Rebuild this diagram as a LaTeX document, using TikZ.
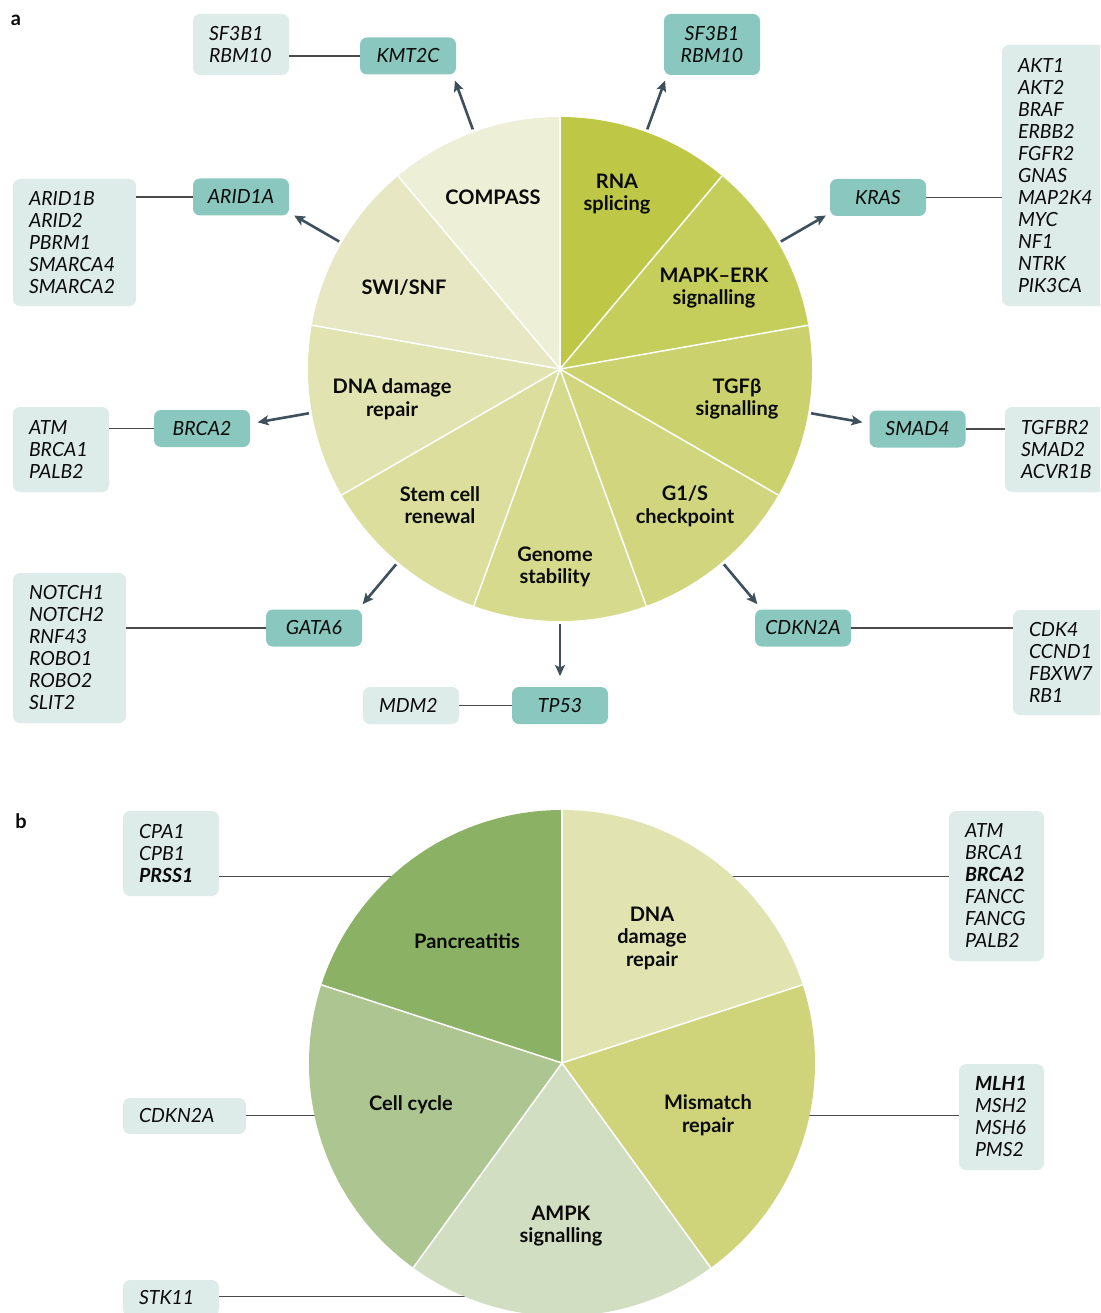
\documentclass[tikz,border=0pt]{standalone}
\usepackage{fontspec}
\setmainfont{Lato}[BoldFont={Lato Bold},BoldItalicFont={Lato Bold Italic}]
\usetikzlibrary{arrows.meta}
\definecolor{txt}{HTML}{0A0A0A}
\definecolor{lightbox}{HTML}{DDECE8}
\definecolor{darkbox}{HTML}{8AC8BF}
\definecolor{arrc}{HTML}{3D505C}
\definecolor{linkc}{HTML}{4A4A4A}
\definecolor{sRNA}{HTML}{BFC846}
\definecolor{sMAPK}{HTML}{C5CD5B}
\definecolor{sTGF}{HTML}{CBD26D}
\definecolor{sGS}{HTML}{D1D67E}
\definecolor{sGEN}{HTML}{D6DA8C}
\definecolor{sSTEM}{HTML}{DBDE9C}
\definecolor{sDNA}{HTML}{E1E3B0}
\definecolor{sSWI}{HTML}{E7E8C3}
\definecolor{sCOMP}{HTML}{EEEFD7}
\definecolor{bPAN}{HTML}{8BB264}
\definecolor{bCELL}{HTML}{ADC590}
\definecolor{bAMPK}{HTML}{D2DEC2}
\definecolor{bMMR}{HTML}{CFD47A}
\definecolor{bDNA}{HTML}{E1E4B1}
\newcommand\genef{\fontsize{19.5}{22}\selectfont\itshape}
\newcommand\slabf{\fontsize{20}{22.5}\selectfont\bfseries}
\begin{document}
\begin{tikzpicture}[x=1pt,y=-1pt,
  lbox/.style={fill=lightbox, rounded corners=7pt, inner xsep=16pt, inner ysep=0pt, align=left, font=\genef, text=txt},
  dbox/.style={fill=darkbox, rounded corners=7pt, inner sep=0pt, minimum width=96pt, minimum height=37pt, align=center, font=\genef, text=txt},
  slab/.style={font=\slabf, align=center, text=txt, inner sep=0pt},
  panel/.style={font=\fontsize{20}{22}\selectfont\bfseries, text=txt, inner sep=0pt},
  arr/.style={draw=arrc, line width=2.6pt, -{Stealth[length=11pt,width=10pt,inset=2.5pt]}},
  link/.style={draw=linkc, line width=1.3pt},
  sep/.style={draw=white, line width=1.5pt}
]
\clip (0,0) rectangle (1100,1313);
\fill[white] (0,0) rectangle (1100,1313);

% ================= panel a =================
\node[panel] (la) at (16,20) {a};
\coordinate (A) at (560,369);
\def\R{252pt}
\fill[sRNA]  (A) -- ++(90:\R)  arc[start angle=90,  end angle=50,   radius=\R] -- cycle;
\fill[sMAPK] (A) -- ++(50:\R)  arc[start angle=50,  end angle=10,   radius=\R] -- cycle;
\fill[sTGF]  (A) -- ++(10:\R)  arc[start angle=10,  end angle=-30,  radius=\R] -- cycle;
\fill[sGS]   (A) -- ++(-30:\R) arc[start angle=-30, end angle=-70,  radius=\R] -- cycle;
\fill[sGEN]  (A) -- ++(-70:\R) arc[start angle=-70, end angle=-110, radius=\R] -- cycle;
\fill[sSTEM] (A) -- ++(-110:\R) arc[start angle=-110, end angle=-150, radius=\R] -- cycle;
\fill[sDNA]  (A) -- ++(210:\R) arc[start angle=210, end angle=170,  radius=\R] -- cycle;
\fill[sSWI]  (A) -- ++(170:\R) arc[start angle=170, end angle=130,  radius=\R] -- cycle;
\fill[sCOMP] (A) -- ++(130:\R) arc[start angle=130, end angle=90,   radius=\R] -- cycle;
\foreach \a in {90,50,10,-30,-70,-110,-150,170,130}
  \draw[sep] (A) -- ++(\a:\R);

\node[slab] (tRNA)  at (617,194) {RNA\\splicing};
\node[slab] (tMAPK) at (714,288) {MAPK–ERK\\signalling};
\node[slab] (tTGF)  at (737,399) {TGFβ\\signalling};
\node[slab] (tGS)   at (685,506) {G1/S\\checkpoint};
\node[slab] (tGEN)  at (555,567) {Genome\\stability};
\node[slab] (tSTEM) at (440,505) {Stem cell\\renewal};
\node[slab] (tDNA)  at (392,399) {DNA damage\\repair};
\node[slab] (tSWI)  at (404,288) {SWI/SNF};
\node[slab] (tCOMP) at (493,197) {COMPASS};

% boxes
\node[dbox] (KMT2C) at (408,56) {KMT2C};
\node[lbox, text width=64pt, minimum height=61pt] (lSF) at (241,44.5) {SF3B1\\RBM10};
\node[dbox, minimum height=61pt] (dSF) at (712,44.5) {SF3B1\\RBM10};
\node[dbox] (KRAS) at (878,197.5) {KRAS};
\node[lbox, text width=80pt, minimum height=261pt] (lAKT) at (1058,175.5) {AKT1\\AKT2\\BRAF\\ERBB2\\FGFR2\\GNAS\\MAP2K4\\MYC\\NF1\\NTRK\\PIK3CA};
\node[dbox] (SMAD4) at (917.5,429) {SMAD4};
\node[lbox, text width=80pt, minimum height=85pt] (lTGF) at (1061,449.5) {TGFBR2\\SMAD2\\ACVR1B};
\node[dbox] (CDKN2A) at (803,628) {CDKN2A};
\node[lbox, text width=80pt, minimum height=105pt] (lCDK) at (1069,662.5) {CDK4\\CCND1\\FBXW7\\RB1};
\node[dbox] (TP53) at (560,705.5) {TP53};
\node[lbox, text width=64pt, minimum height=37pt] (lMDM2) at (411,705.5) {MDM2};
\node[dbox] (GATA6) at (314,628) {GATA6};
\node[lbox, text width=81pt, minimum height=150pt] (lNOTCH) at (69.5,648) {NOTCH1\\NOTCH2\\RNF43\\ROBO1\\ROBO2\\SLIT2};
\node[dbox] (BRCA2) at (202,428.5) {BRCA2};
\node[lbox, text width=64pt, minimum height=85pt] (lATM) at (61,449.5) {ATM\\BRCA1\\PALB2};
\node[dbox] (ARID1A) at (241,197) {ARID1A};
\node[lbox, text width=91pt, minimum height=127pt] (lARID) at (74.5,242.5) {ARID1B\\ARID2\\PBRM1\\SMARCA4\\SMARCA2};

% links
\draw[link] (KMT2C.west) -- (KMT2C.west -| lSF.east);
\draw[link] (KRAS.east) -- (KRAS.east -| lAKT.west);
\draw[link] (SMAD4.east) -- (SMAD4.east -| lTGF.west);
\draw[link] (CDKN2A.east) -- (CDKN2A.east -| lCDK.west);
\draw[link] (TP53.west) -- (TP53.west -| lMDM2.east);
\draw[link] (GATA6.west) -- (GATA6.west -| lNOTCH.east);
\draw[link] (BRCA2.west) -- (BRCA2.west -| lATM.east);
\draw[link] (ARID1A.west) -- (ARID1A.west -| lARID.east);

% arrows
\foreach \a/\n in {110/1,70/2,30/3,-10/4,-50/5,-90/6,-130/7,190/8,150/9}{
  \coordinate (as\n) at ([shift={(\a:255pt)}]A);
  \coordinate (ae\n) at ([shift={(\a:307pt)}]A);
  \draw[arr] (as\n) -- (ae\n);
}

% ================= panel b =================
\node[panel] (lb) at (21,821) {b};
\coordinate (B) at (562,1063);
\def\Rb{253pt}
\coordinate (p1) at (393,876.5);
\coordinate (p2) at (316,1115.5);
\coordinate (p3) at (472,1296.5);
\coordinate (p4) at (731,876.5);
\coordinate (p5) at (808,1115.5);

\node[lbox, text width=64pt, minimum height=85pt] (lCPA) at (171,853.5) {CPA1\\CPB1\\\textbf{PRSS1}};
\node[lbox, text width=91pt, minimum height=36pt] (lCDKb) at (184.5,1116) {CDKN2A};
\node[lbox, text width=64pt, minimum height=36pt] (lSTK) at (171,1298) {STK11};
\node[lbox, text width=63pt, minimum height=150pt] (lATMb) at (996.5,886) {ATM\\BRCA1\\\textbf{BRCA2}\\FANCC\\FANCG\\PALB2};
\node[lbox, text width=53pt, minimum height=106pt] (lMLH) at (1001.5,1117) {\textbf{MLH1}\\MSH2\\MSH6\\PMS2};

\draw[link] (lCPA.east |- p1) -- (p1);
\draw[link] (lCDKb.east |- p2) -- (p2);
\draw[link] (lSTK.east |- p3) -- (p3);
\draw[link] (lATMb.west |- p4) -- (p4);
\draw[link] (lMLH.west |- p5) -- (p5);

\fill[bDNA]  (B) -- ++(90:\Rb)  arc[start angle=90,  end angle=18,   radius=\Rb] -- cycle;
\fill[bMMR]  (B) -- ++(18:\Rb)  arc[start angle=18,  end angle=-54,  radius=\Rb] -- cycle;
\fill[bAMPK] (B) -- ++(-54:\Rb) arc[start angle=-54, end angle=-126, radius=\Rb] -- cycle;
\fill[bCELL] (B) -- ++(-126:\Rb) arc[start angle=-126, end angle=-198, radius=\Rb] -- cycle;
\fill[bPAN]  (B) -- ++(162:\Rb) arc[start angle=162, end angle=90,   radius=\Rb] -- cycle;
\foreach \a in {90,18,-54,-126,162}
  \draw[sep] (B) -- ++(\a:\Rb);

\node[slab] (tPAN)  at (467,941.5) {Pancreatitis};
\node[slab] (tDNAb) at (652,938) {DNA\\damage\\repair};
\node[slab] (tCELL) at (411,1105) {Cell cycle};
\node[slab] (tMMR)  at (708,1115) {Mismatch\\repair};
\node[slab] (tAMPK) at (561,1226) {AMPK\\signalling};
\end{tikzpicture}
\end{document}
